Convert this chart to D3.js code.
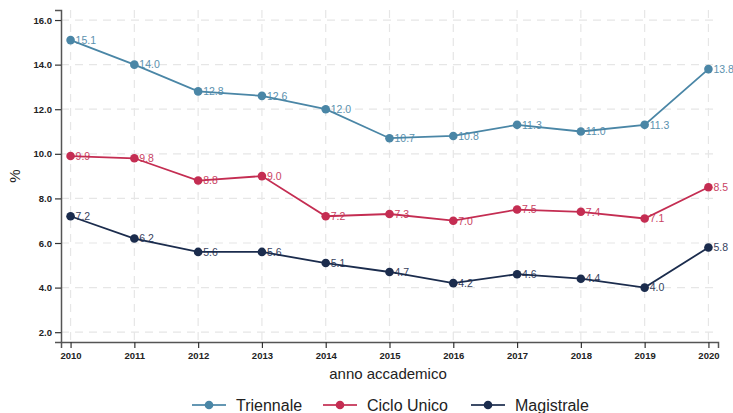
<!DOCTYPE html>
<html><head><meta charset="utf-8">
<script src="https://cdn.jsdelivr.net/npm/d3@7"></script>
<style>body{margin:0;background:#fff}svg{display:block;font-family:"Liberation Sans",Arial,sans-serif}</style>
</head><body><svg id="c" width="733" height="413"></svg>
<script>
const years = [2010,2011,2012,2013,2014,2015,2016,2017,2018,2019,2020];
const triennale = [15.1,14.0,12.8,12.6,12.0,10.7,10.8,11.3,11.0,11.3,13.8];
const cicloUnico = [9.9,9.8,8.8,9.0,7.2,7.3,7.0,7.5,7.4,7.1,8.5];
const magistrale = [7.2,6.2,5.6,5.6,5.1,4.7,4.2,4.6,4.4,4.0,5.8];
const yTicks = [2,4,6,8,10,12,14,16];
const seriesNames = ["Triennale","Ciclo Unico","Magistrale"];
const seriesColors = ["#4a86a6","#c42d52","#1b2c4d"];

const series = [triennale, cicloUnico, magistrale].map((v,i)=>({name:seriesNames[i], color:seriesColors[i], values:v}));
const svg = d3.select("#c");
const L=61, R=718, T=10, B=342;
const x = d3.scaleLinear().domain([2009.85,2020.15]).range([L,R]);
const y = d3.scaleLinear().domain([1.56,16.45]).range([B,T]);

// grid
const g = svg.append("g");
g.selectAll(".hg").data(yTicks).join("line").attr("x1",L).attr("x2",R)
 .attr("y1",d=>y(d)).attr("y2",d=>y(d)).attr("stroke","#e6e6e6").attr("stroke-width",1.2).attr("stroke-dasharray","8,6");
g.selectAll(".vg").data(years).join("line").attr("y1",T).attr("y2",B)
 .attr("x1",d=>x(d)).attr("x2",d=>x(d)).attr("stroke","#e6e6e6").attr("stroke-width",1.2).attr("stroke-dasharray","8,6");

// axes
const yAxis = svg.append("g").attr("transform",`translate(${L},0)`)
 .call(d3.axisLeft(y).tickValues(yTicks).tickFormat(d3.format(".1f")).tickSize(6).tickPadding(3));
const xAxis = svg.append("g").attr("transform",`translate(0,${B})`)
 .call(d3.axisBottom(x).tickValues(years).tickFormat(d3.format("d")).tickSize(6).tickPadding(4));
[yAxis,xAxis].forEach(a=>{
  a.select(".domain").attr("stroke","#555").attr("stroke-width",1.5);
  a.selectAll(".tick line").attr("stroke","#333").attr("stroke-width",1.2);
  a.selectAll(".tick text").attr("fill","#222").attr("font-size",9.5).attr("font-weight","bold")
   .attr("font-family","'Liberation Sans',Arial,sans-serif");
});
svg.append("text").attr("x",388).attr("y",379).attr("text-anchor","middle")
 .attr("font-size",15).attr("fill","#222").text("anno accademico");
svg.append("text").attr("transform","translate(20,176) rotate(-90)").attr("text-anchor","middle")
 .attr("font-size",15).attr("fill","#222").text("%");

// lines
const line = d3.line().x((d,i)=>x(years[i])).y(d=>y(d));
series.forEach(s=>{
  const sg = svg.append("g");
  sg.append("path").datum(s.values).attr("d",line).attr("fill","none").attr("stroke",s.color).attr("stroke-width",1.8);
  sg.selectAll("circle").data(s.values).join("circle").attr("cx",(d,i)=>x(years[i])).attr("cy",d=>y(d))
   .attr("r",4.3).attr("fill",s.color);
  sg.selectAll("text").data(s.values).join("text").attr("x",(d,i)=>x(years[i])+5).attr("y",d=>y(d)+3.8)
   .attr("font-size",10.5).attr("fill",s.color).attr("opacity",0.9).text(d=>d3.format(".1f")(d));
});

// legend
const legX = [192,323,471];
series.forEach((s,i)=>{
  const lg = svg.append("g").attr("transform",`translate(${legX[i]},405)`);
  lg.append("line").attr("x1",0).attr("x2",34).attr("stroke",s.color).attr("stroke-width",1.8).attr("opacity",0.85);
  lg.append("circle").attr("cx",17).attr("r",4.3).attr("fill",s.color);
  lg.append("text").attr("x",44).attr("y",6).attr("font-size",16).attr("fill","#222").text(s.name);
});
</script></body></html>
